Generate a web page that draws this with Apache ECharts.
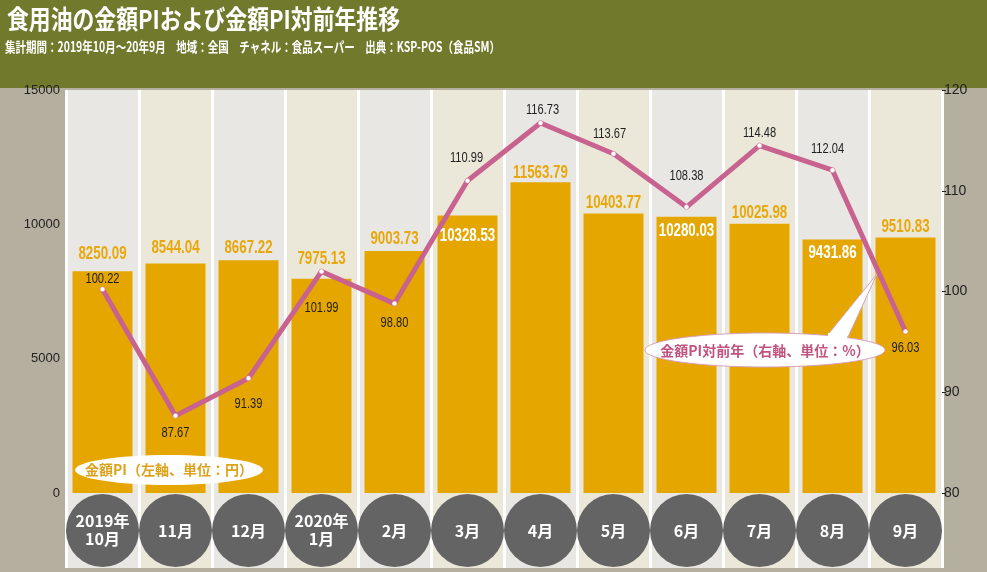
<!DOCTYPE html>
<html>
<head>
<meta charset="utf-8">
<script src="https://cdn.jsdelivr.net/npm/echarts@6/dist/echarts.min.js"></script>
<style>
html,body{margin:0;padding:0;background:#b4af9f;}
#c{width:987px;height:572px;}
</style>
</head>
<body>
<div id="c"></div>
<script>
// ---- data ----
const categories = ['2019年\n10月', '11月', '12月', '2020年\n1月', '2月', '3月', '4月', '5月', '6月', '7月', '8月', '9月'];
const piValues = [8250.09, 8544.04, 8667.22, 7975.13, 9003.73, 10328.53, 11563.79, 10403.77, 10280.03, 10025.98, 9431.86, 9510.83];
const yoyValues = [100.22, 87.67, 91.39, 101.99, 98.80, 110.99, 116.73, 113.67, 108.38, 114.48, 112.04, 96.03];
const titleText = '食用油の金額PIおよび金額PI対前年推移';
const subText = '集計期間：2019年10月～20年9月　地域：全国　チャネル：食品スーパー　出典：KSP-POS（食品SM）';
const legendPI = '金額PI（左軸、単位：円）';
const legendYoY = '金額PI対前年（右軸、単位：%）';

// ---- label styling (not data) ----
// bar label centre offset (px) from bar top; positive = inside bar (white)
const barLabelDy = [-17, -15, -12, -20, -12, 21, -9, -10, 14, -11, 13, -10];
// line label centre offsets [dx, dy] from point
const lineLabelOffset = [[0, -10], [0, 17], [0, 26], [0, 36], [0, 19], [-1, -23], [2, -13], [-4, -20], [0, -31], [0, -13], [-5, -21], [0, 16]];

const SANS = '"Liberation Sans", Arial, sans-serif';
const JP = '"Noto Sans CJK JP", "Noto Sans", sans-serif';
const GOLD = '#e5a600';
const PINK = '#c8628f';

const chart = echarts.init(document.getElementById('c'));
chart.setOption({
  backgroundColor: '#b4af9f',
  animation: false,
  grid: [
    { left: 66, right: 45, top: 90, bottom: 79 },
    { left: 66, right: 45, top: 493, bottom: 4 }
  ],
  xAxis: [
    {
      type: 'category', gridIndex: 0, data: categories, boundaryGap: true,
      axisLine: { show: false }, axisTick: { show: false }, axisLabel: { show: false },
      splitLine: { show: true, interval: 0, lineStyle: { color: '#ffffff', width: 3 } },
      splitArea: { show: true, interval: 0, areaStyle: { color: ['#e9e7e3', '#ece8d9'] } }
    },
    {
      type: 'category', gridIndex: 1, data: categories, boundaryGap: true, position: 'top',
      axisLine: { show: false }, axisTick: { show: false },
      splitLine: { show: true, interval: 0, lineStyle: { color: '#ffffff', width: 3 } },
      splitArea: { show: true, interval: 0, areaStyle: { color: ['#e9e7e3', '#ece8d9'] } },
      axisLabel: {
        show: true, inside: true, interval: 0, margin: 1,
        backgroundColor: '#646464', width: 73, height: 73, borderRadius: 37,
        align: 'center', verticalAlign: 'top', color: '#ffffff',
        formatter: function (v) {
          if (v.indexOf('\n') >= 0) {
            const p = v.split('\n');
            return '{s| }\n{t|' + p[0] + '}\n{t|' + p[1] + '}';
          }
          return '{c|' + v + '}';
        },
        rich: {
          c: { fontSize: 16, lineHeight: 73, color: '#ffffff', fontWeight: 'bold', fontFamily: JP, align: 'center' },
          s: { fontSize: 4, lineHeight: 18, color: '#646464', align: 'center' },
          t: { fontSize: 16, lineHeight: 18, color: '#ffffff', fontWeight: 'bold', fontFamily: JP, align: 'center' }
        }
      }
    }
  ],
  yAxis: [
    {
      type: 'value', gridIndex: 0, min: 0, max: 15000, interval: 5000,
      axisLine: { show: false }, axisTick: { show: false }, splitLine: { show: false },
      axisLabel: { color: '#222', fontSize: 13, fontFamily: SANS, margin: 6, formatter: v => String(v) }
    },
    {
      type: 'value', gridIndex: 0, min: 80, max: 120, interval: 10, position: 'right',
      axisLine: { show: false },
      axisTick: { show: true, length: 4, lineStyle: { color: '#222' } },
      splitLine: { show: true, lineStyle: { color: '#222', type: [5, 3], width: 1 } },
      axisLabel: { color: '#222', fontSize: 14, fontFamily: SANS, margin: 2 }
    },
    { type: 'value', gridIndex: 1, show: false }
  ],
  series: [
    {
      type: 'bar', xAxisIndex: 0, yAxisIndex: 0, data: piValues, barWidth: 60,
      itemStyle: { color: GOLD }
    },
    {
      type: 'line', xAxisIndex: 0, yAxisIndex: 1, data: yoyValues,
      lineStyle: { color: PINK, width: 5 },
      symbol: 'circle', symbolSize: 5,
      itemStyle: { color: '#ffffff', borderColor: PINK, borderWidth: 0.5 },
      z: 5
    },
    {
      // bar value labels (condensed text)
      type: 'custom', xAxisIndex: 0, yAxisIndex: 0, z: 6,
      data: piValues.map((v, i) => [i, v]),
      encode: { x: 0, y: 1 },
      renderItem: function (params, api) {
        const p = api.coord([api.value(0), api.value(1)]);
        const dy = barLabelDy[params.dataIndex];
        return {
          type: 'text', x: p[0], y: p[1] + dy, scaleX: 0.74,
          style: {
            text: api.value(1).toFixed(2), fill: dy > 0 ? '#ffffff' : '#e8a80c',
            font: 'bold 18px ' + SANS, textAlign: 'center', textVerticalAlign: 'middle'
          }
        };
      }
    },
    {
      // line value labels
      type: 'custom', xAxisIndex: 0, yAxisIndex: 1, z: 7,
      data: yoyValues.map((v, i) => [i, v]),
      encode: { x: 0, y: 1 },
      renderItem: function (params, api) {
        const p = api.coord([api.value(0), api.value(1)]);
        const o = lineLabelOffset[params.dataIndex];
        return {
          type: 'text', x: p[0] + o[0], y: p[1] + o[1], scaleX: 0.74,
          style: {
            text: api.value(1).toFixed(2), fill: '#1e1e1e',
            font: '15px ' + SANS, textAlign: 'center', textVerticalAlign: 'middle'
          }
        };
      }
    }
  ],
  graphic: [
    { type: 'rect', z: -10, silent: true, shape: { x: 0, y: 0, width: 987, height: 88 }, style: { fill: '#717a2c' } },
    { type: 'text', z: 10, x: 7, y: 19, scaleX: 0.84, style: { text: titleText, fill: '#ffffff', font: 'bold 26px ' + JP, textAlign: 'left', textVerticalAlign: 'middle' } },
    { type: 'text', z: 10, x: 5, y: 47, scaleX: 0.75, style: { text: subText, fill: '#ffffff', font: 'bold 14px ' + JP, textAlign: 'left', textVerticalAlign: 'middle' } },
    { type: 'ellipse', z: 100, shape: { cx: 169, cy: 470, rx: 94, ry: 15 }, style: { fill: '#ffffff' } },
    { type: 'text', z: 101, x: 169, y: 470, style: { text: legendPI, fill: '#dba21c', font: 'bold 14px ' + JP, textAlign: 'center', textVerticalAlign: 'middle' } },
    { type: 'polygon', z: 100, shape: { points: [[826, 337], [848, 337], [877, 274]] }, style: { fill: '#ffffff', stroke: '#d9a0b8', lineWidth: 1 } },
    { type: 'ellipse', z: 100, shape: { cx: 765, cy: 350, rx: 120, ry: 17 }, style: { fill: '#ffffff', stroke: '#d9a0b8', lineWidth: 1 } },
    { type: 'rect', z: 100, shape: { x: 828, y: 333, width: 19, height: 6 }, style: { fill: '#ffffff' } },
    { type: 'text', z: 101, x: 765, y: 351, style: { text: legendYoY, fill: '#c0537f', font: 'bold 14px ' + JP, textAlign: 'center', textVerticalAlign: 'middle' } }
  ]
});
</script>
</body>
</html>
